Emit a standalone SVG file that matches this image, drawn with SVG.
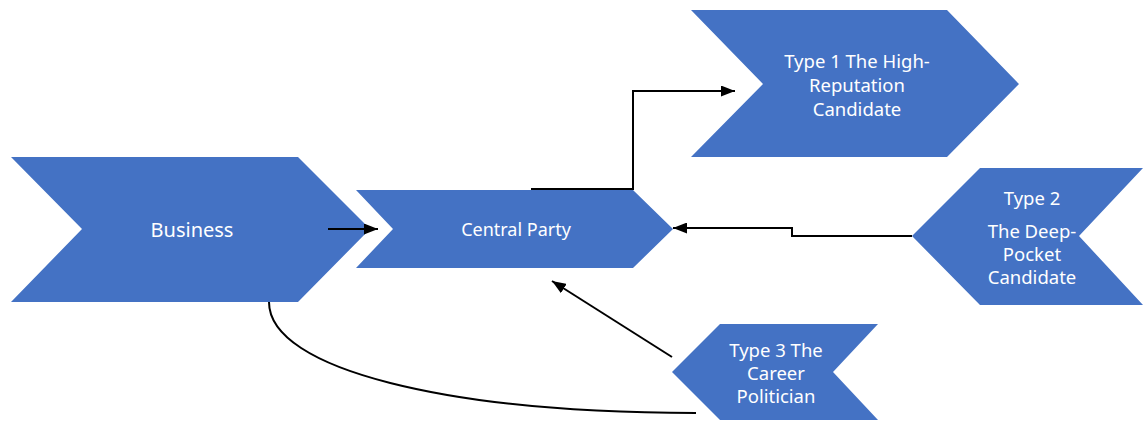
<svg xmlns="http://www.w3.org/2000/svg" width="1143" height="421" viewBox="0 0 1143 421">
<style>
.shape{fill:#4472C4;}
.lbl{fill:#ffffff;font-family:"Noto Sans","Open Sans",sans-serif;text-anchor:middle;dominant-baseline:central;}
.conn{fill:none;stroke:#000000;stroke-width:2;}
</style>
<defs>
<marker id="arr" viewBox="0 0 14 11" refX="14" refY="5.5" markerWidth="14" markerHeight="11" markerUnits="userSpaceOnUse" orient="auto">
<path d="M0,0 L14,5.5 L0,11 Z" fill="#000"/>
</marker>
</defs>
<rect width="1143" height="421" fill="#ffffff"/>
<g id="business">
<polygon class="shape" points="11,157 298,157 370,229 298,302 11,302 82,229"/>
<text class="lbl" x="192" y="229" font-size="20">Business</text>
</g>
<g id="central-party">
<polygon class="shape" points="356,190 633,190 673,229 633,268 356,268 393,229"/>
<text class="lbl" x="516" y="229" font-size="18">Central Party</text>
</g>
<g id="type1">
<polygon class="shape" points="691,10 947,10 1019,84 947,157 691,157 763,84"/>
<text class="lbl" font-size="18.5"><tspan x="857" y="60">Type 1 The High-</tspan><tspan x="857" y="84">Reputation</tspan><tspan x="857" y="108">Candidate</tspan></text>
</g>
<g id="type2">
<polygon class="shape" points="912,236 980,168 1143,168 1079,236 1143,305 980,305"/>
<text class="lbl" font-size="18.5"><tspan x="1032" y="197">Type 2</tspan><tspan x="1032" y="230">The Deep-</tspan><tspan x="1032" y="253">Pocket</tspan><tspan x="1032" y="276">Candidate</tspan></text>
</g>
<g id="type3">
<polygon class="shape" points="672,372 720,324 878,324 833,372 878,420 720,420"/>
<text class="lbl" font-size="18.5"><tspan x="776" y="349">Type 3 The</tspan><tspan x="776" y="372">Career</tspan><tspan x="776" y="395">Politician</tspan></text>
</g>
<g id="connectors">
<path class="conn" d="M328,229 L378,229" marker-end="url(#arr)"/>
<path class="conn" d="M531,189 L633,189 L633,91 L735,91" marker-end="url(#arr)"/>
<path class="conn" d="M912,236 L792,236 L792,228 L673,228" marker-end="url(#arr)"/>
<path class="conn" d="M672,357 L552,281" marker-end="url(#arr)"/>
<path class="conn" d="M269,302 C269,370 450,413 696,413"/>
</g>
</svg>
